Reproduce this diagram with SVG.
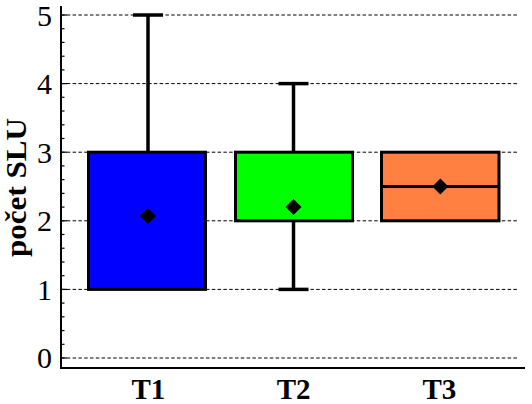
<svg xmlns="http://www.w3.org/2000/svg" width="532" height="404" viewBox="0 0 532 404">
<style>
.grid{stroke:#000;stroke-width:1;stroke-dasharray:3.5 2.3;fill:none}
.axis{stroke:#000;stroke-width:2;fill:none}
.tick{stroke:#000;stroke-width:1.2}
.box{stroke:#000;stroke-width:3}
.wh{stroke:#000;stroke-width:3.5;fill:none}
text{font-family:'Times New Roman','Liberation Serif',serif;fill:#000}
.num{font-size:30px;text-anchor:end}
.lab{font-size:29px;font-weight:bold;text-anchor:middle}
</style>
<defs>
<path id="dia" d="M0,-8 L8,0 L0,8 L-8,0 Z" fill="#000"/>
</defs>
<rect width="532" height="404" fill="#fff"/>
<g id="grid">
<line class="grid" x1="61" y1="15" x2="517" y2="15"/>
<line class="grid" x1="61" y1="83.6" x2="517" y2="83.6"/>
<line class="grid" x1="61" y1="152.2" x2="517" y2="152.2"/>
<line class="grid" x1="61" y1="220.8" x2="517" y2="220.8"/>
<line class="grid" x1="61" y1="289.4" x2="517" y2="289.4"/>
<line class="grid" x1="61" y1="358" x2="517" y2="358"/>
</g>
<g id="axes">
<line class="axis" x1="61" y1="6" x2="61" y2="369"/>
<line class="axis" x1="60" y1="368" x2="525" y2="368"/>
<g class="tick">
<line x1="61" y1="15" x2="67" y2="15"/><line x1="61" y1="83.6" x2="67" y2="83.6"/><line x1="61" y1="152.2" x2="67" y2="152.2"/><line x1="61" y1="220.8" x2="67" y2="220.8"/><line x1="61" y1="289.4" x2="67" y2="289.4"/><line x1="61" y1="358" x2="67" y2="358"/>
<line x1="61" y1="28.7" x2="64.5" y2="28.7"/><line x1="61" y1="42.4" x2="64.5" y2="42.4"/><line x1="61" y1="56.2" x2="64.5" y2="56.2"/><line x1="61" y1="69.9" x2="64.5" y2="69.9"/>
<line x1="61" y1="97.3" x2="64.5" y2="97.3"/><line x1="61" y1="111" x2="64.5" y2="111"/><line x1="61" y1="124.8" x2="64.5" y2="124.8"/><line x1="61" y1="138.5" x2="64.5" y2="138.5"/>
<line x1="61" y1="165.9" x2="64.5" y2="165.9"/><line x1="61" y1="179.6" x2="64.5" y2="179.6"/><line x1="61" y1="193.4" x2="64.5" y2="193.4"/><line x1="61" y1="207.1" x2="64.5" y2="207.1"/>
<line x1="61" y1="234.5" x2="64.5" y2="234.5"/><line x1="61" y1="248.2" x2="64.5" y2="248.2"/><line x1="61" y1="262" x2="64.5" y2="262"/><line x1="61" y1="275.7" x2="64.5" y2="275.7"/>
<line x1="61" y1="303.1" x2="64.5" y2="303.1"/><line x1="61" y1="316.8" x2="64.5" y2="316.8"/><line x1="61" y1="330.6" x2="64.5" y2="330.6"/><line x1="61" y1="344.3" x2="64.5" y2="344.3"/>
</g>
<text class="num" x="52" y="25.5">5</text>
<text class="num" x="52" y="94">4</text>
<text class="num" x="52" y="162.7">3</text>
<text class="num" x="52" y="231.3">2</text>
<text class="num" x="52" y="299.9">1</text>
<text class="num" x="52" y="368">0</text>
<text class="lab" style="font-size:29px" transform="translate(26,187.5) rotate(-90)" textLength="139" lengthAdjust="spacingAndGlyphs">počet SLU</text>
<text class="lab" x="148.3" y="398.5">T1</text>
<text class="lab" x="293.7" y="398.5">T2</text>
<text class="lab" x="439.3" y="398.5">T3</text>
</g>
<g id="T1">
<line class="wh" x1="148" y1="15" x2="148" y2="152"/>
<line class="wh" x1="133" y1="15" x2="163" y2="15"/>
<rect class="box" x="88.5" y="152.2" width="117" height="137.2" fill="#0000ff"/>
<use href="#dia" x="148" y="216"/>
</g>
<g id="T2">
<line class="wh" x1="293.5" y1="83.6" x2="293.5" y2="152"/>
<line class="wh" x1="278.5" y1="83.6" x2="308.5" y2="83.6"/>
<line class="wh" x1="293.5" y1="221" x2="293.5" y2="289.4"/>
<line class="wh" x1="278.5" y1="289.4" x2="308.5" y2="289.4"/>
<rect class="box" x="235.5" y="152.2" width="117" height="68.6" fill="#00ff00"/>
<use href="#dia" x="293.5" y="207"/>
</g>
<g id="T3">
<rect class="box" x="381.5" y="152.2" width="117.5" height="68.6" fill="#ff8040"/>
<line class="box" x1="381.5" y1="186.5" x2="499" y2="186.5"/>
<use href="#dia" x="440.3" y="186.5"/>
</g>
</svg>
